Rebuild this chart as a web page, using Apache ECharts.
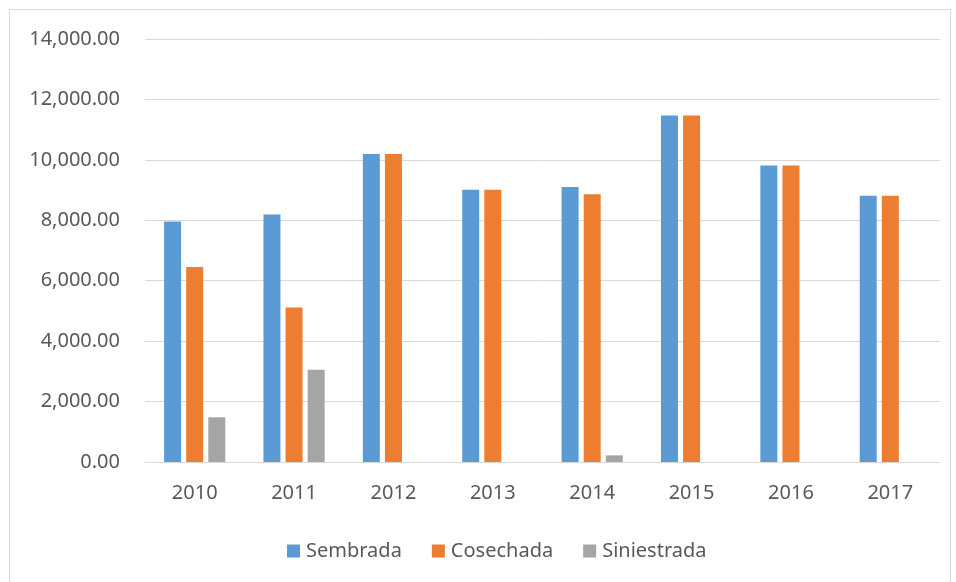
<!DOCTYPE html>
<html>
<head>
<meta charset="utf-8">
<script src="https://cdn.jsdelivr.net/npm/echarts@6/dist/echarts.min.js"></script>
<style>
html,body{margin:0;padding:0;background:#fff;}
#chart{width:956px;height:582px;}
</style>
</head>
<body>
<div id="chart"></div>
<script>
const categories = ['2010','2011','2012','2013','2014','2015','2016','2017'];
const sembrada = [7960, 8190, 10190, 9010, 9105, 11465, 9810, 8810];
const cosechada = [6450, 5110, 10190, 9010, 8865, 11465, 9810, 8810];
const siniestrada = [1480, 3050, 0, 0, 220, 0, 0, 0];
const yTicks = [0, 2000, 4000, 6000, 8000, 10000, 12000, 14000];

const FONT = 'Noto Sans';
const chart = echarts.init(document.getElementById('chart'), null, {renderer: 'canvas'});
const fmt = v => v.toLocaleString('en-US', {minimumFractionDigits: 2, maximumFractionDigits: 2});
const mk = (name, data, color) => ({
  name, type: 'bar', data, barWidth: 17, barGap: '30%',
  itemStyle: {color},
  emphasis: {disabled: true}
});
chart.setOption({
  animation: false,
  textStyle: {fontFamily: FONT},
  graphic: [{
    type: 'rect', shape: {x: 9.5, y: 9.5, width: 941, height: 590},
    style: {fill: 'none', stroke: '#d9d9d9', lineWidth: 1}, silent: true
  }],
  grid: {left: 145, right: 16, top: 39, bottom: 120, containLabel: false},
  legend: {
    top: 536, left: 282, itemWidth: 13, itemHeight: 13, itemGap: 30,
    icon: 'rect',
    textStyle: {fontFamily: FONT, fontSize: 20, color: '#595959', padding: [0, 0, 0, 1]},
    data: ['Sembrada', 'Cosechada', 'Siniestrada']
  },
  xAxis: {
    type: 'category', data: categories,
    axisLine: {lineStyle: {color: '#d9d9d9', width: 1}},
    axisTick: {show: false},
    axisLabel: {fontFamily: FONT, fontSize: 20, color: '#595959', margin: 21}
  },
  yAxis: {
    type: 'value', min: yTicks[0], max: yTicks[yTicks.length - 1], interval: yTicks[1] - yTicks[0],
    axisLine: {show: false}, axisTick: {show: false},
    splitLine: {lineStyle: {color: '#d9d9d9', width: 1}},
    axisLabel: {fontFamily: FONT, fontSize: 20, color: '#595959', margin: 25, formatter: fmt}
  },
  series: [
    mk('Sembrada', sembrada, '#5b9bd5'),
    mk('Cosechada', cosechada, '#ed7d31'),
    mk('Siniestrada', siniestrada, '#a5a5a5')
  ]
});
</script>
</body>
</html>
